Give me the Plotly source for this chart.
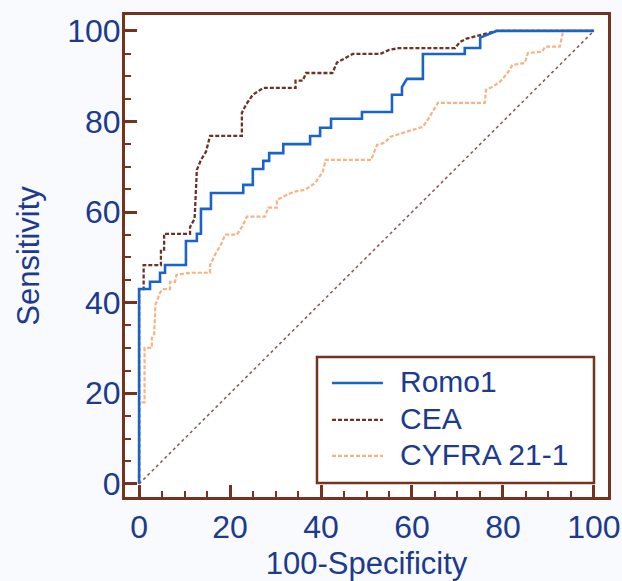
import plotly.graph_objects as go

# Romo1 ROC (100-Specificity, Sensitivity)
romo_x = [0, 0, 2.4, 2.4, 4.6, 4.6, 5.7, 5.7, 10.3, 10.3, 12.7, 12.7, 13.6, 13.6, 15.8, 15.8,
          22.9, 22.9, 25, 25, 27.3, 27.3, 28.6, 28.6, 31.7, 31.7, 37.6, 37.6, 39.8, 39.8,
          42.2, 42.2, 49, 49, 55.6, 55.6, 57.8, 57.8, 58.9, 62.4, 62.4, 71.6, 71.6, 75, 75,
          78.7, 100]
romo_y = [0, 43, 43, 44.6, 44.6, 46.6, 46.6, 48.3, 48.3, 53.6, 53.6, 55.2, 55.2, 60.7, 60.7, 64.2,
          64.2, 66, 66, 69.5, 69.5, 71.3, 71.3, 73, 73, 75, 75, 76.8, 76.8, 78.6,
          78.6, 80.6, 80.6, 82.1, 82.1, 85.9, 85.9, 87.6, 89.4, 89.4, 94.9, 94.9, 96.2, 96.2, 98.5,
          100, 100]

# CEA ROC
cea_x = [0, 0, 1, 1, 4.8, 4.8, 5.5, 5.5, 11.2, 11.2, 12.2, 12.5, 12.7, 13.6, 14.7, 15.6, 15.8,
         22.6, 22.6, 23.5, 25, 27.3, 34.4, 34.4, 36, 36.7, 42.5, 43.5, 47, 53, 55, 57.2,
         69.5, 70.5, 72, 78.5, 100]
cea_y = [0, 43, 43, 48.3, 48.3, 51.7, 51.7, 55.2, 55.2, 56.7, 58.5, 64, 69.3, 71.5, 73.3, 76.8, 76.8,
         76.8, 81.9, 83.7, 85.9, 87.4, 87.4, 89, 89, 90.7, 90.7, 93, 94.9, 94.9, 95.8, 96.2,
         96.2, 97.5, 98.3, 100, 100]

# CYFRA 21-1 ROC
cyfra_x = [0, 0, 1.2, 1.2, 2.8, 2.8, 3.3, 3.4, 3.6, 4.6, 5.2, 6.8, 6.8, 7.9, 8.2, 11.2, 15.6,
           15.6, 16.7, 18.2, 18.9, 21.5, 22.9, 23.7, 27.7, 28.4, 30.3, 30.3, 32.8, 34, 36.5,
           38.7, 40.4, 41, 51, 52.3, 54, 55.2, 60, 62.4, 63.5, 64.6, 65.7, 76, 76.3, 77.6,
           79.3, 81, 82.1, 84.8, 85.5, 88.6, 89.3, 92.5, 93.2, 93.5, 100]
cyfra_y = [0, 18, 18, 30, 30, 32.2, 33, 37.5, 39.5, 42.2, 43, 43, 44.6, 44.6, 46.1, 46.6, 46.6,
           48.3, 50.6, 53.2, 55, 55, 57.2, 59, 59, 61, 61, 62.7, 63.8, 64.5, 64.9,
           66.4, 68.9, 71.5, 71.5, 74.8, 75.3, 76.6, 78.1, 78.8, 80.4, 82.1, 84.1, 84.1, 87, 87.6,
           88.7, 90.7, 92.5, 92.9, 95.1, 95.4, 96.5, 96.5, 99.8, 100, 100]

ref_x = [0, 100]
ref_y = [0, 100]

tick_vals = [0, 20, 40, 60, 80, 100]
tick_text = ["0", "20", "40", "60", "80", "100"]

series_names = ["Romo1", "CEA", "CYFRA 21-1"]

TEXT = "#1c3a8e"
FRAME = "#74331f"
FONT = "Liberation Sans, Arial, sans-serif"

C_ROMO = "#1a64c8"
C_CEA = "#6b3327"
C_CYFRA = "#f8b284"
DASH = "4px,2px"

fig = go.Figure()
fig.add_trace(go.Scatter(x=ref_x, y=ref_y, mode="lines", showlegend=False,
                         line=dict(color="#8e5546", width=1.5, dash="dot")))
fig.add_trace(go.Scatter(x=cyfra_x, y=cyfra_y, mode="lines", name=series_names[2], showlegend=False,
                         line=dict(color=C_CYFRA, width=2.2, dash=DASH)))
fig.add_trace(go.Scatter(x=cea_x, y=cea_y, mode="lines", name=series_names[1], showlegend=False,
                         line=dict(color=C_CEA, width=2.3, dash=DASH)))
fig.add_trace(go.Scatter(x=romo_x, y=romo_y, mode="lines", name=series_names[0], showlegend=False,
                         line=dict(color=C_ROMO, width=2.6)))

axis_common = dict(
    tickvals=tick_vals, ticktext=tick_text,
    showgrid=False, zeroline=False, automargin=False,
    showline=True, linecolor=FRAME, linewidth=3, mirror=True,
    ticks="inside", ticklen=12, tickwidth=2.5, tickcolor=FRAME,
    minor=dict(dtick=5, ticks="inside", ticklen=6, tickwidth=2, tickcolor=FRAME),
    tickfont=dict(family=FONT, size=32, color=TEXT),
)

# legend drawn in paper coordinates (box, sample lines, labels)
legend_box = dict(x0=0.3975, x1=0.971, y0=0.029, y1=0.2905)
legend_line_x = (0.4286, 0.534)
legend_rows_y = [0.2365, 0.160, 0.0855]
legend_text_x = 0.565
legend_styles = [dict(color=C_ROMO, width=2.4), dict(color=C_CEA, width=2.2, dash=DASH),
                 dict(color=C_CYFRA, width=2.2, dash=DASH)]

shapes = [dict(type="rect", xref="paper", yref="paper", **legend_box,
               line=dict(color=FRAME, width=2.5), fillcolor="#ffffff", layer="above")]
annotations = []
for name, ly, st in zip(series_names, legend_rows_y, legend_styles):
    shapes.append(dict(type="line", xref="paper", yref="paper", x0=legend_line_x[0], x1=legend_line_x[1],
                       y0=ly, y1=ly, line=st, layer="above"))
    annotations.append(dict(xref="paper", yref="paper", x=legend_text_x, y=ly + 0.003, text=name,
                            showarrow=False, xanchor="left", yanchor="middle",
                            font=dict(family=FONT, size=30, color=TEXT)))

fig.update_layout(
    width=622, height=581,
    margin=dict(l=125, r=14, t=15, b=84),
    paper_bgcolor="#f9fafd",
    plot_bgcolor="#ffffff",
    showlegend=False,
    xaxis=dict(range=[-3.1, 103.1],
               title=dict(text="100-Specificity", font=dict(family=FONT, size=31, color=TEXT), standoff=15),
               **axis_common),
    yaxis=dict(range=[-2.9, 103.5], ticklabelstandoff=-5,
               title=dict(text="Sensitivity", font=dict(family=FONT, size=31, color=TEXT), standoff=19),
               **axis_common),
    shapes=shapes,
    annotations=annotations,
)

fig.write_html("out.html", config={"displayModeBar": False},
               post_script="document.body.style.margin='0';document.body.style.background='#f9fafd';")
